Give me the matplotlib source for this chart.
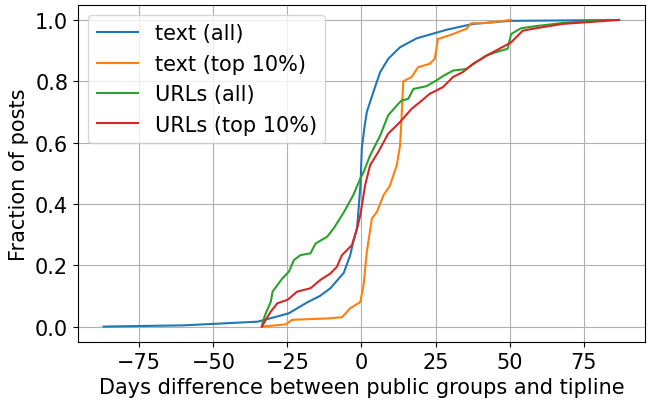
import matplotlib
matplotlib.use("Agg")
from matplotlib import pyplot as plt

# days difference / cumulative fraction
text_all_x = [-87, -60, -35, -24.6, -18.3, -14, -10.5, -6, -3.8, -2.7, -1.5, -1, -0.3, 0.1,
              1, 1.8, 4, 6.3, 9, 13, 18.6, 28.7, 37.6, 50, 87]
text_all_y = [0.0, 0.004, 0.016, 0.043, 0.079, 0.10, 0.125, 0.175, 0.233, 0.28, 0.32, 0.38, 0.47, 0.58,
              0.65, 0.70, 0.765, 0.83, 0.873, 0.911, 0.94, 0.968, 0.987, 0.997, 1.0]

text_top_x = [-33.6, -25.6, -23.4, -10.5, -6.5, -3.8, -0.4, 0.7, 1.8, 3.5, 5.2, 7.4, 9.6, 11.9,
              13, 13.5, 14.1, 16.9, 19.1, 23, 24.7, 25.8, 30.9, 33.7, 35.4, 37, 42, 50.5]
text_top_y = [0.0, 0.007, 0.022, 0.027, 0.031, 0.06, 0.08, 0.135, 0.244, 0.352, 0.374, 0.428, 0.46, 0.526,
              0.59, 0.678, 0.80, 0.814, 0.846, 0.857, 0.873, 0.938, 0.954, 0.965, 0.971, 0.989, 0.99, 1.0]

urls_all_x = [-33.6, -33.3, -32.3, -30.6, -30, -28.4, -26.7, -24.5, -22.8, -20.6, -17.2, -15.5, -11.6,
              -9.4, -6, -2.7, -0.4, 0.7, 2.9, 6.3, 9, 11.9, 13.5, 15.8, 17.5, 21.9, 25.3, 27.5, 30.9,
              35.4, 38.7, 42.1, 45.4, 49.3, 50.5, 53.8, 58.9, 67.8, 82.3]
urls_all_y = [0.0, 0.016, 0.043, 0.081, 0.114, 0.135, 0.157, 0.179, 0.217, 0.233, 0.239, 0.271, 0.293,
              0.32, 0.372, 0.43, 0.483, 0.504, 0.558, 0.623, 0.689, 0.721, 0.737, 0.743, 0.775, 0.784, 0.803,
              0.817, 0.835, 0.84, 0.862, 0.884, 0.895, 0.906, 0.954, 0.973, 0.98, 0.99, 1.0]

urls_top_x = [-33.6, -32.3, -30.6, -28.4, -25, -21.7, -17.2, -13.9, -10.5, -8.3, -6.6, -3.2, -1.5,
              -0.4, 1.2, 2.9, 5.7, 9, 13, 16.9, 19.7, 23, 27.5, 30.9, 34.2, 37.6, 43.2, 46.5, 50.5,
              54.4, 58.9, 67.8, 86.8]
urls_top_y = [0.0, 0.022, 0.049, 0.076, 0.087, 0.114, 0.125, 0.152, 0.173, 0.195, 0.233, 0.266, 0.32,
              0.363, 0.46, 0.526, 0.57, 0.629, 0.667, 0.71, 0.732, 0.759, 0.781, 0.814, 0.83, 0.857,
              0.889, 0.906, 0.927, 0.965, 0.973, 0.987, 1.0]

plt.rcParams["font.size"] = 15

fig, ax = plt.subplots(figsize=(6.49, 4.02), dpi=100)
ax.plot(text_all_x, text_all_y, label="text (all)")
ax.plot(text_top_x, text_top_y, label="text (top 10%)")
ax.plot(urls_all_x, urls_all_y, label="URLs (all)")
ax.plot(urls_top_x, urls_top_y, label="URLs (top 10%)")
ax.grid()
ax.set_xlabel("Days difference between public groups and tipline")
ax.set_ylabel("Fraction of posts")
ax.legend(loc="upper left")
fig.subplots_adjust(left=0.12, right=0.994, bottom=0.147, top=0.986)
fig.savefig("out.png")
